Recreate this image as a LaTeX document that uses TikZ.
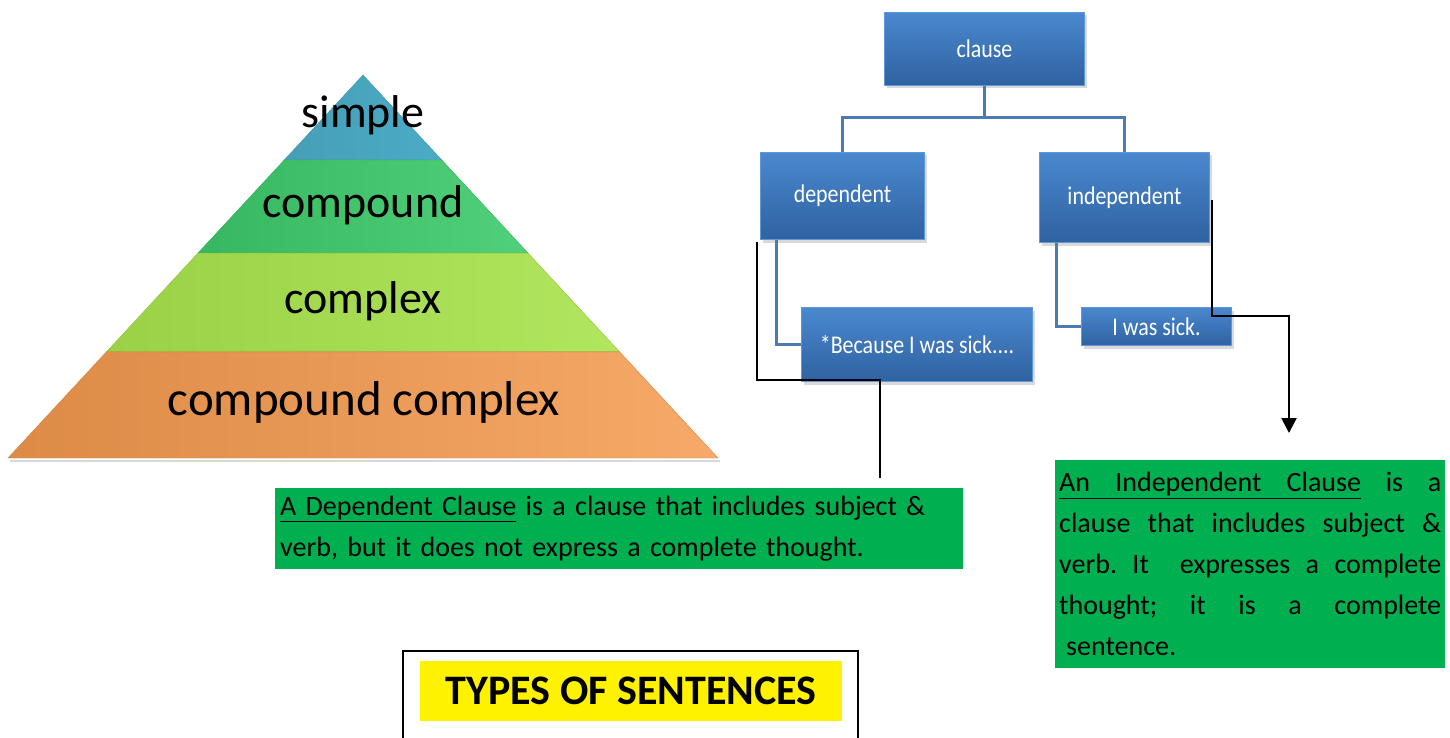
\documentclass[tikz,border=0pt]{standalone}
\usepackage{fontspec}
\setmainfont{Carlito}
\newfontfamily\treefont[FakeStretch=0.86]{Carlito}
\usetikzlibrary{arrows.meta,shadows,calc}
\definecolor{simplecol}{HTML}{4BACC6}
\definecolor{compoundcol}{HTML}{3ECB6C}
\definecolor{complexcol}{HTML}{A8E34C}
\definecolor{cccol}{HTML}{F59A4E}
\definecolor{boxtop}{HTML}{4A88CF}
\definecolor{boxbot}{HTML}{2F62A0}
\definecolor{boxedge}{HTML}{5E98D8}
\definecolor{treeblue}{HTML}{4B7BB2}
\definecolor{defgreen}{HTML}{00B050}
\newcommand\clauseul[1]{\underline{#1}}
\tikzset{
  pyrtext/.style={anchor=base,font=\fontsize{46}{50}\selectfont},
  clausebox/.style={rectangle,anchor=north west,inner sep=0pt,draw=boxedge,line width=1pt,
    top color=boxtop,bottom color=boxbot,text=white,font=\treefont\fontsize{25.5}{30}\selectfont,
    drop shadow={opacity=0.3,shadow xshift=2pt,shadow yshift=-3pt}},
  treeline/.style={draw=treeblue,line width=3pt},
  callout/.style={draw=black,line width=2.2pt},
  defbox/.style={rectangle,anchor=north west,fill=defgreen,inner ysep=0pt,
    font=\fontsize{28}{41}\selectfont}
}
\begin{document}
\begin{tikzpicture}[x=1pt,y=-1pt]
\useasboundingbox (0,0) rectangle (1450,738);
% pyramid
\path (363,75) coordinate (apex) (8,458) coordinate (bl) (718,458) coordinate (br)
($(apex)!0.222!(bl)$) coordinate (l1) ($(apex)!0.222!(br)$) coordinate (r1)
($(apex)!0.465!(bl)$) coordinate (l2) ($(apex)!0.465!(br)$) coordinate (r2)
($(apex)!0.723!(bl)$) coordinate (l3) ($(apex)!0.723!(br)$) coordinate (r3);
\fill[gray!60,opacity=0.5] ([xshift=2pt,yshift=-4pt]bl) rectangle ([xshift=2pt,yshift=-2pt]br);
\draw[simplecol!85!black,left color=simplecol!92!black,right color=simplecol] (apex)--(r1)--(l1)--cycle;
\draw[compoundcol!85!black,left color=compoundcol!90!black,right color=compoundcol!90!white] (l1)--(r1)--(r2)--(l2)--cycle;
\draw[complexcol!85!black,left color=complexcol!92!black,right color=complexcol!90!white] (l2)--(r2)--(r3)--(l3)--cycle;
\draw[cccol!85!black,left color=cccol!90!black,right color=cccol!85!white] (l3)--(r3)--(br)--(bl)--cycle;
\node[pyrtext] (simple) at (363,128) {simple};
\node[pyrtext] (compound) at (363,218) {compound};
\node[pyrtext] (complex) at (363,313) {complex};
\node[pyrtext,font=\fontsize{49}{53}\selectfont] (cc) at (364,415) {compound complex};
% clause tree
\node[clausebox,minimum width=200pt,minimum height=73pt] (clause) at (884,12) {clause};
\node[clausebox,minimum width=164pt,minimum height=87pt] (dependent) at (760,152) {dependent};
\node[clausebox,minimum width=170pt,minimum height=90pt] (independent) at (1039,152) {independent};
\node[clausebox,minimum width=231pt,minimum height=74pt] (because) at (801,307) {*Because I was sick....};
\node[clausebox,minimum width=150pt,minimum height=38pt] (sick) at (1081,307) {I was sick.};
\draw[treeline] (clause.south) -- ++(0,32) coordinate (fork);
\draw[treeline] (dependent.north) |- (fork) -| (independent.north);
\draw[treeline] ([xshift=16pt]dependent.south west) |- (because.west);
\draw[treeline] ([xshift=17pt]independent.south west) |- (sick.west);
% definitions
\node[defbox,text width=678pt,inner xsep=5pt,minimum height=81pt,align=left] (depdef) at (275,488)
  {\clauseul{A Dependent Clause} is a clause that includes subject \&\\verb, but it does not express a complete thought.};
\node[defbox,text width=382pt,inner xsep=4pt,minimum height=208pt,align=justify] (indef) at (1055,460)
  {\frenchspacing\tolerance=10000\clauseul{An\hspace{0.9em}Independent\hspace{0.9em}Clause} is a\linebreak clause that includes subject \&\linebreak
   verb. It\ \ expresses a complete\linebreak thought; it is a complete\linebreak \hspace*{0.25em}sentence.};
\coordinate (depfrom) at (757,242);
\coordinate (depto) at (880,478);
\coordinate (indfrom) at (1212,200);
\coordinate (indto) at (1289,433);
\draw[callout] (depfrom) |- (880,380) -- (depto);
\draw[callout,-{Triangle[width=15pt,length=15pt]}] (indfrom) |- (1289,316) -- (indto);
% title
\node[draw=black,line width=1.5pt,anchor=north west,minimum width=455pt,minimum height=100pt] (frame) at (402,650) {};
\node[fill=yellow,anchor=north west,inner sep=0pt,minimum width=422pt,minimum height=60pt,
  font=\fontsize{42}{46}\selectfont\bfseries] (title) at (420,661) {TYPES OF SENTENCES};
\end{tikzpicture}
\end{document}
